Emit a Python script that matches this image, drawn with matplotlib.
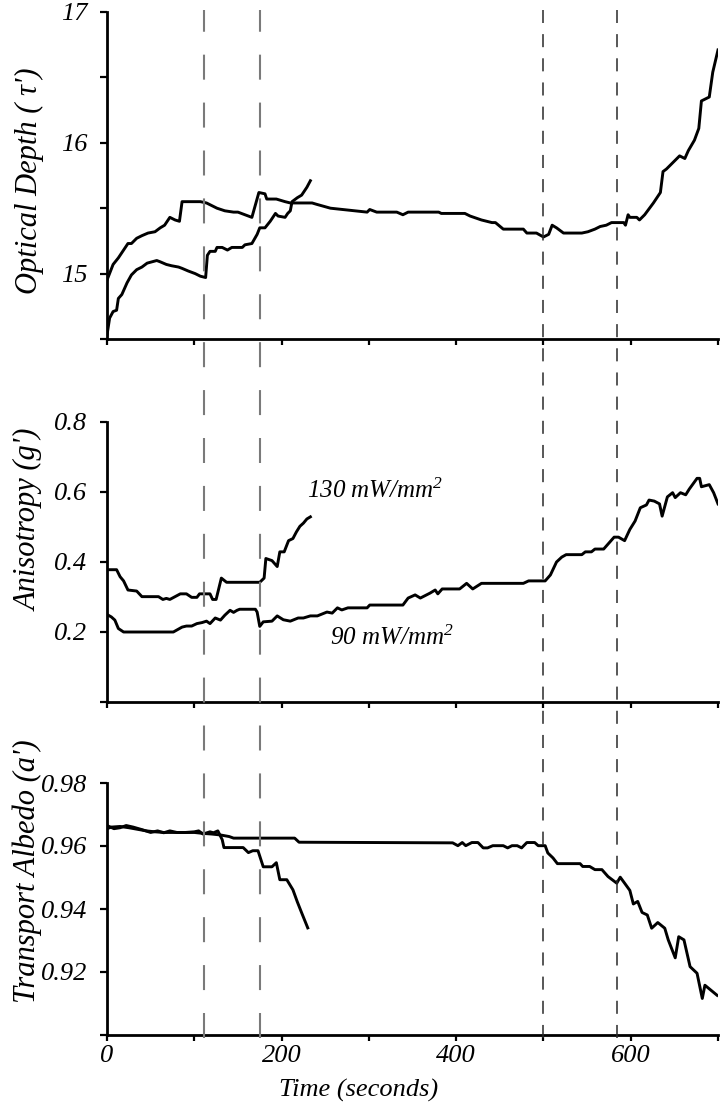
import numpy as np
import matplotlib.pyplot as plt
from matplotlib.lines import Line2D
from matplotlib.transforms import blended_transform_factory

plt.rcParams['font.family'] = ['Liberation Serif', 'DejaVu Serif']
plt.rcParams['font.style'] = 'italic'
plt.rcParams['mathtext.fontset'] = 'custom'
plt.rcParams['mathtext.rm'] = 'Liberation Serif:italic'
plt.rcParams['mathtext.it'] = 'Liberation Serif:italic'
plt.rcParams['lines.scale_dashes'] = False

# ---- data (time in seconds) ----
# optical depth, 130 mW/mm2 (short run) and 90 mW/mm2 (long run)
tau_t_130 = [0, 3, 7, 11, 13, 17, 23, 28, 34, 40, 46, 57, 61, 68, 74, 82, 86, 93, 101, 107,
             113, 115, 118, 124, 126, 132, 138, 143, 155, 158, 166, 172, 175, 181, 187, 193,
             196, 204, 207, 210, 212, 218, 223, 229, 233]
tau_v_130 = [14.53, 14.66, 14.71, 14.72, 14.81, 14.84, 14.93, 14.99, 15.03, 15.05, 15.08, 15.10,
             15.09, 15.07, 15.06, 15.05, 15.04, 15.02, 15.00, 14.98, 14.97, 15.14, 15.17, 15.17,
             15.20, 15.20, 15.18, 15.20, 15.20, 15.22, 15.23, 15.30, 15.35, 15.35, 15.40, 15.46,
             15.44, 15.43, 15.46, 15.48, 15.55, 15.58, 15.60, 15.66, 15.71]
tau_t_90 = [0, 7, 13, 19, 24, 28, 34, 40, 47, 55, 61, 66, 72, 78, 83, 86, 107, 114, 126, 135,
            145, 150, 166, 174, 181, 183, 194, 204, 210, 235, 240, 256, 298, 301, 309, 332, 339,
            345, 380, 383, 410, 416, 429, 441, 445, 454, 477, 481, 492, 500, 506, 510, 515, 523,
            544, 551, 559, 565, 572, 578, 592, 594, 597, 599, 607, 610, 616, 626, 634, 637, 641,
            656, 662, 666, 673, 678, 681, 690, 694, 700]
tau_v_90 = [14.95, 15.07, 15.12, 15.18, 15.23, 15.23, 15.27, 15.29, 15.31, 15.32, 15.35, 15.37,
            15.43, 15.41, 15.40, 15.55, 15.55, 15.54, 15.50, 15.48, 15.47, 15.47, 15.43, 15.62,
            15.61, 15.57, 15.57, 15.55, 15.54, 15.54, 15.53, 15.50, 15.47, 15.49, 15.47, 15.47,
            15.45, 15.47, 15.47, 15.46, 15.46, 15.44, 15.41, 15.39, 15.39, 15.34, 15.34, 15.31,
            15.31, 15.28, 15.30, 15.37, 15.35, 15.31, 15.31, 15.32, 15.34, 15.36, 15.37, 15.39,
            15.39, 15.37, 15.45, 15.43, 15.43, 15.41, 15.45, 15.54, 15.62, 15.78, 15.80, 15.90,
            15.88, 15.94, 16.02, 16.11, 16.32, 16.35, 16.54, 16.71]

# anisotropy
g_t_130 = [0, 11, 15, 19, 24, 34, 40, 59, 64, 68, 72, 84, 91, 97, 103, 106, 118, 121, 125, 131,
           137, 175, 180, 182, 189, 195, 198, 203, 208, 213, 217, 221, 225, 229, 233]
g_v_130 = [0.378, 0.378, 0.358, 0.346, 0.320, 0.317, 0.301, 0.301, 0.293, 0.296, 0.293, 0.309,
           0.309, 0.299, 0.299, 0.309, 0.309, 0.293, 0.293, 0.354, 0.342, 0.342, 0.354, 0.410,
           0.404, 0.387, 0.429, 0.429, 0.461, 0.467, 0.486, 0.502, 0.511, 0.523, 0.529]
g_t_90 = [0, 5, 9, 13, 19, 76, 86, 91, 97, 103, 109, 114, 118, 124, 130, 135, 141, 145, 149, 152,
          170, 172, 175, 179, 189, 195, 202, 210, 219, 225, 233, 241, 252, 258, 264, 269, 276,
          298, 301, 339, 345, 353, 359, 370, 376, 379, 384, 404, 412, 419, 429, 477, 483, 502,
          508, 515, 521, 526, 544, 548, 555, 559, 569, 581, 586, 593, 599, 605, 611, 618, 621,
          627, 633, 636, 642, 648, 651, 657, 663, 667, 676, 679, 681, 690, 695, 700]
g_v_90 = [0.250, 0.243, 0.234, 0.210, 0.200, 0.200, 0.214, 0.217, 0.217, 0.224, 0.227, 0.231,
          0.224, 0.240, 0.234, 0.248, 0.262, 0.256, 0.262, 0.265, 0.265, 0.257, 0.216, 0.229,
          0.231, 0.246, 0.235, 0.231, 0.240, 0.240, 0.246, 0.246, 0.257, 0.254, 0.269, 0.263,
          0.269, 0.269, 0.277, 0.277, 0.297, 0.306, 0.297, 0.311, 0.320, 0.309, 0.323, 0.323,
          0.339, 0.323, 0.339, 0.339, 0.346, 0.346, 0.363, 0.400, 0.414, 0.421, 0.421, 0.429,
          0.429, 0.437, 0.437, 0.471, 0.471, 0.461, 0.493, 0.517, 0.555, 0.563, 0.577, 0.574,
          0.566, 0.531, 0.586, 0.598, 0.584, 0.598, 0.592, 0.608, 0.639, 0.639, 0.615, 0.621,
          0.598, 0.566]

# transport albedo
a_t_130 = [0, 8, 15, 22, 30, 40, 50, 58, 65, 72, 80, 90, 100, 105, 110, 118, 122, 127, 132, 134,
           156, 162, 167, 173, 179, 189, 194, 198, 206, 213, 218, 223, 230]
a_v_130 = [0.9665, 0.9655, 0.9658, 0.9665, 0.9660, 0.9652, 0.9643, 0.9648, 0.9642, 0.9648,
           0.9643, 0.9643, 0.9645, 0.9648, 0.9638, 0.9645, 0.9642, 0.9648, 0.9620, 0.9595,
           0.9595, 0.9579, 0.9585, 0.9585, 0.9534, 0.9534, 0.9547, 0.9493, 0.9493, 0.9461,
           0.9423, 0.9388, 0.9340]
a_t_90 = [0, 5, 15, 25, 35, 45, 55, 65, 100, 110, 120, 130, 140, 145, 215, 220, 396, 402, 407,
          411, 418, 425, 431, 436, 442, 454, 459, 464, 470, 475, 481, 490, 494, 502, 505, 511,
          516, 542, 545, 553, 559, 567, 574, 584, 588, 593, 599, 603, 608, 613, 619, 624, 631,
          639, 643, 651, 655, 661, 668, 676, 682, 685, 699]
a_v_90 = [0.9655, 0.9660, 0.9662, 0.9658, 0.9653, 0.9648, 0.9645, 0.9643, 0.9643, 0.9640,
          0.9638, 0.9635, 0.9630, 0.9625, 0.9625, 0.9612, 0.9610, 0.9601, 0.9611, 0.9601,
          0.9611, 0.9611, 0.9594, 0.9594, 0.9601, 0.9601, 0.9594, 0.9601, 0.9601, 0.9594,
          0.9611, 0.9611, 0.9601, 0.9601, 0.9578, 0.9562, 0.9544, 0.9544, 0.9535, 0.9535,
          0.9525, 0.9525, 0.9503, 0.9482, 0.9501, 0.9482, 0.9459, 0.9416, 0.9424, 0.9389,
          0.9381, 0.9339, 0.9357, 0.9339, 0.9302, 0.9245, 0.9312, 0.9302, 0.9217, 0.9196,
          0.9116, 0.9158, 0.9126]

# event markers (seconds)
marks_130 = [111, 175]
marks_90 = [500, 584]

x_ticks = [0, 100, 200, 300, 400, 500, 600, 700]
x_labels = ['0', '', '200', '', '400', '', '600', '']

# ---- figure ----
W, H = 726, 1107
fig = plt.figure(figsize=(W / 100, H / 100), dpi=100)


def box(top, bottom):
    return [107 / W, 1 - bottom / H, 611 / W, (bottom - top) / H]


ax1 = fig.add_axes(box(12, 339))
ax2 = fig.add_axes(box(422, 702))
ax3 = fig.add_axes(box(783, 1035))

lw = 2.1
ax1.plot(tau_t_130, tau_v_130, color='black', lw=lw)
ax1.plot(tau_t_90, tau_v_90, color='black', lw=lw)
ax2.plot(g_t_130, g_v_130, color='black', lw=lw)
ax2.plot(g_t_90, g_v_90, color='black', lw=lw)
ax3.plot(a_t_130, a_v_130, color='black', lw=lw)
ax3.plot(a_t_90, a_v_90, color='black', lw=lw)

ax1.set_ylim(14.5, 17)
ax1.set_yticks([14.5, 15, 15.5, 16, 16.5, 17], ['', '15', '', '16', '', '17'])
ax2.set_ylim(0, 0.8)
ax2.set_yticks([0, 0.2, 0.4, 0.6, 0.8], ['', '0.2', '0.4', '0.6', '0.8'])
ax3.set_ylim(0.90, 0.98)
ax3.set_yticks([0.90, 0.92, 0.94, 0.96, 0.98], ['', '0.92', '0.94', '0.96', '0.98'])

for ax in (ax1, ax2, ax3):
    ax.set_xlim(0, 700)
    ax.set_xticks(x_ticks, x_labels if ax is ax3 else [''] * len(x_ticks))
    for s in ('top', 'right'):
        ax.spines[s].set_visible(False)
    for s in ('left', 'bottom'):
        ax.spines[s].set_linewidth(2.0)
    ax.tick_params(axis='y', direction='out', length=5, width=1.6, labelsize=19, pad=9)
    ax.tick_params(axis='x', direction='out', length=4, width=1.6, labelsize=19, pad=3)

ax2.text(229, 0.583, r'130 mW/mm$^{2}$', fontsize=18, ha='left', va='baseline')
ax2.text(255, 0.163, r'90 mW/mm$^{2}$', fontsize=18, ha='left', va='baseline')

fig.text(29 / W, 1 - 181 / H, "Optical Depth ( \u03c4')", rotation=90, fontsize=22,
         ha='center', va='center')
fig.text(29 / W, 1 - 520 / H, "Anisotropy (g')", rotation=90, fontsize=22,
         ha='center', va='center')
fig.text(27 / W, 1 - 871 / H, "Transport Albedo (a')", rotation=90, fontsize=22,
         ha='center', va='center')
fig.text(359 / W, 1 - 1090 / H, 'Time (seconds)', fontsize=19, ha='center', va='center')

# dashed markers running through all three panels
trans = blended_transform_factory(ax3.transData, fig.transFigure)
y_top, y_bot = 1 - 10 / H, 1 - 1038 / H
for t in marks_130:
    fig.add_artist(Line2D([t, t], [y_bot, y_top], transform=trans, color='#7a7a7a',
                          lw=1.5, dashes=(18, 16.5)))
for t in marks_90:
    fig.add_artist(Line2D([t, t], [y_bot, y_top], transform=trans, color='#2a2a2a',
                          lw=1.1, dashes=(9.4, 8)))

fig.savefig('out.png', dpi=100)
